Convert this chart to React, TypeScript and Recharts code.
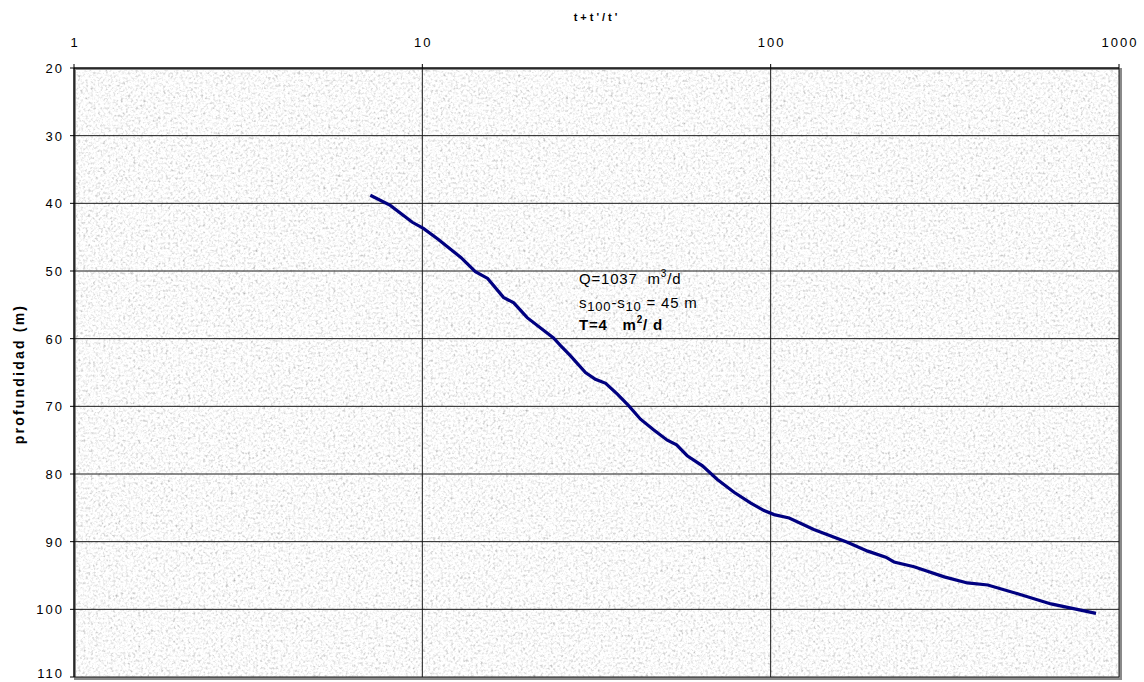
import React from "react";
import { LineChart, Line, XAxis, YAxis, CartesianGrid } from "recharts";

const timeRatio = [7.09, 8.09, 9.36, 10.07, 11.1, 12.9, 14.2, 15.4, 17.1, 18.3, 20.0, 23.8, 24.9, 26.6, 29.4, 31.4, 33.6, 36.3, 39.1, 42.3, 46.2, 50.5, 53.7, 57.6, 63.7, 70.3, 78.5, 87.7, 95.7, 102.3, 113, 133, 166, 190, 214, 226, 258, 315, 367, 420, 512, 638, 859];
const depth = [38.8, 40.3, 42.8, 43.7, 45.3, 48.0, 50.1, 51.1, 53.9, 54.7, 56.9, 59.9, 61.0, 62.5, 65.0, 66.0, 66.6, 68.2, 69.9, 71.9, 73.5, 75.0, 75.7, 77.3, 78.8, 80.8, 82.7, 84.3, 85.4, 86.0, 86.5, 88.2, 90.1, 91.4, 92.3, 93.0, 93.7, 95.2, 96.1, 96.4, 97.7, 99.2, 100.6];
const xTicks = [1, 10, 100, 1000];
const yTicks = [20, 30, 40, 50, 60, 70, 80, 90, 100, 110];
const xTitle = "t+t'/t'";
const yTitle = "profundidad (m)";

const data = timeRatio.map((t, i) => ({ t, d: depth[i] }));

const FONT = "Arial, 'Liberation Sans', sans-serif";

const noiseSvg =
  "<svg xmlns='http://www.w3.org/2000/svg' width='1100' height='640'>" +
  "<filter id='n' x='0' y='0' width='100%' height='100%'>" +
  "<feTurbulence type='fractalNoise' baseFrequency='0.4' numOctaves='2' seed='7' stitchTiles='stitch'/>" +
  "<feColorMatrix type='matrix' values='0.33 0.33 0.33 0 0 0.33 0.33 0.33 0 0 0.33 0.33 0.33 0 0 0 0 0 0 1'/>" +
  "<feComponentTransfer><feFuncR type='linear' slope='1.7' intercept='0.12'/><feFuncG type='linear' slope='1.7' intercept='0.12'/><feFuncB type='linear' slope='1.7' intercept='0.12'/></feComponentTransfer>" +
  "</filter><rect width='100%' height='100%' filter='url(#n)'/></svg>";
const noiseUrl = `url("data:image/svg+xml,${encodeURIComponent(noiseSvg)}")`;

const XTick = (props: any) => {
  const { x, y, payload } = props;
  return (
    <text x={x + 1} y={y} textAnchor="middle" fontSize={13} fill="#000" fontFamily={FONT} letterSpacing={2}>
      {payload.value}
    </text>
  );
};

const YTick = (props: any) => {
  const { x, y, payload } = props;
  return (
    <text x={x} y={y} dy={5} textAnchor="end" fontSize={13} fill="#000" fontFamily={FONT} letterSpacing={2}>
      {payload.value}
    </text>
  );
};

const supStyle: React.CSSProperties = { fontSize: 10, verticalAlign: "7px", lineHeight: 0 };
const subStyle: React.CSSProperties = { fontSize: 13, verticalAlign: "-3px", lineHeight: 0 };

export default function App() {
  return (
    <div style={{ position: "absolute", left: 0, top: 0, width: 1144, height: 682, background: "#fff" }}>
      <div
        style={{
          position: "absolute",
          left: 74,
          top: 68,
          width: 1048,
          height: 612,
          boxSizing: "border-box",
          borderTop: "2px solid #8a8a8a",
          borderLeft: "2px solid #8a8a8a",
          borderRight: "3px solid #8a8a8a",
          borderBottom: "3px solid #8a8a8a",
          backgroundColor: "#e8e8e8",
          backgroundImage: noiseUrl,
        }}
      />
      <div style={{ position: "absolute", left: 0, top: 0 }}>
        <LineChart width={1144} height={682} data={data} margin={{ top: 38, right: 25, bottom: 5, left: 14 }}>
          <CartesianGrid stroke="#1a1a1a" strokeWidth={1} />
          <XAxis
            dataKey="t"
            type="number"
            scale="log"
            domain={[1, 1000]}
            ticks={xTicks}
            orientation="top"
            height={30}
            tickSize={4}
            tickMargin={17}
            tick={<XTick />}
            stroke="#000"
            allowDataOverflow
            label={() => (
              <text x={597} y={21} textAnchor="middle" fontSize={11} fontWeight="bold" fill="#000" fontFamily={FONT} letterSpacing={3}>
                {xTitle}
              </text>
            )}
          />
          <YAxis
            type="number"
            domain={[20, 110]}
            ticks={yTicks}
            reversed
            width={60}
            tickSize={4}
            tickMargin={6}
            tick={<YTick />}
            stroke="#000"
            allowDataOverflow
            label={() => (
              <text
                x={24}
                y={374}
                transform="rotate(-90 24 374)"
                textAnchor="middle"
                fontSize={14}
                fontWeight="bold"
                fill="#000"
                fontFamily={FONT}
                letterSpacing={2.2}
              >
                {yTitle}
              </text>
            )}
          />
          <Line
            type="linear"
            dataKey="d"
            stroke="#000080"
            strokeWidth={3.2}
            dot={false}
            isAnimationActive={false}
          />
        </LineChart>
      </div>
      <div
        style={{
          position: "absolute",
          left: 579,
          top: 267,
          fontFamily: FONT,
          fontSize: 15,
          letterSpacing: 0.8,
          color: "#000",
          lineHeight: "24px",
          whiteSpace: "pre",
        }}
      >
        <div>
          Q=1037  m<sup style={supStyle}>3</sup>/d
        </div>
        <div>
          s<sub style={subStyle}>100</sub>-s<sub style={subStyle}>10</sub> = 45 m
        </div>
        <div style={{ fontWeight: "bold", marginTop: -2 }}>
          T=4   m<sup style={supStyle}>2</sup>/ d
        </div>
      </div>
    </div>
  );
}
